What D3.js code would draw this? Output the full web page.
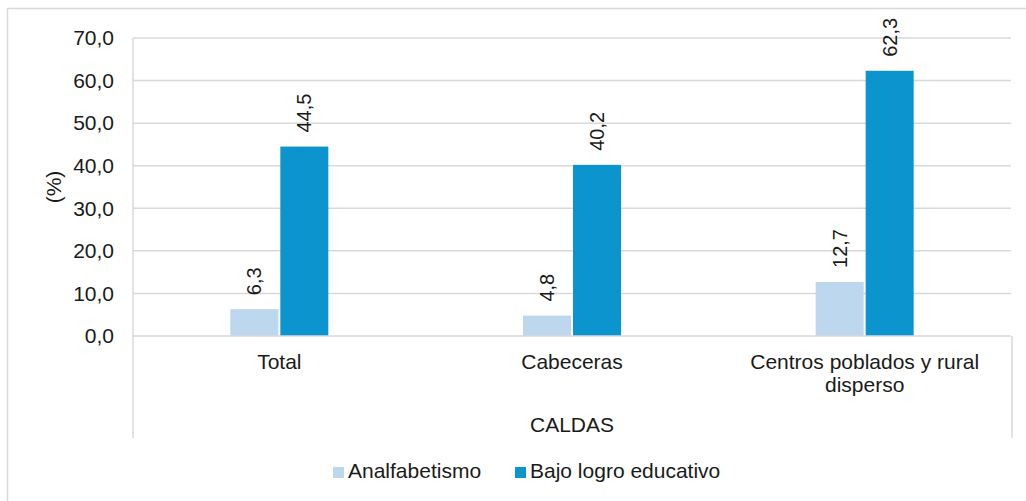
<!DOCTYPE html>
<html>
<head>
<meta charset="utf-8">
<script src="https://cdn.jsdelivr.net/npm/d3@7"></script>
<style>
  html, body { margin: 0; padding: 0; background: #fff; }
  svg { display: block; font-family: "Liberation Sans", Arial, sans-serif; }
</style>
</head>
<body>
<svg id="chart" width="1026" height="501"></svg>
<script>
const categories = ["Total", "Cabeceras", "Centros poblados y rural disperso"];
const categoryLines = [["Total"], ["Cabeceras"], ["Centros poblados y rural", "disperso"]];
const seriesNames = ["Analfabetismo", "Bajo logro educativo"];
const analfabetismo = [6.3, 4.8, 12.7];
const bajoLogro = [44.5, 40.2, 62.3];
const yTicks = [0, 10, 20, 30, 40, 50, 60, 70];
const groupLabel = "CALDAS";
const yTitle = "(%)";

const colors = ["#bdd7ee", "#0c94ce"];
const seriesValues = [analfabetismo, bajoLogro];

const svg = d3.select("#chart");
const margin = { left: 133, right: 1011, top: 38, bottom: 336 };

// outer frame
svg.append("rect")
  .attr("x", 7.5).attr("y", 8.5)
  .attr("width", 1030).attr("height", 510)
  .attr("fill", "none").attr("stroke", "#d9d9d9").attr("stroke-width", 1.5);

const x0 = d3.scaleBand()
  .domain(categories)
  .range([margin.left, margin.right]);

const groupW = 98;
const x1 = d3.scaleBand()
  .domain(seriesNames)
  .range([0, groupW])
  .paddingInner(0.04);

const y = d3.scaleLinear()
  .domain([0, 70])
  .range([margin.bottom, margin.top]);

const fmt = (v) => d3.format(".1f")(v).replace(".", ",");

// gridlines
svg.append("g")
  .selectAll("line")
  .data(yTicks.filter((t) => t > 0))
  .enter()
  .append("line")
  .attr("x1", margin.left).attr("x2", margin.right)
  .attr("y1", (d) => y(d)).attr("y2", (d) => y(d))
  .attr("stroke", "#d9d9d9").attr("stroke-width", 1.5);

// y tick labels
svg.append("g")
  .selectAll("text")
  .data(yTicks)
  .enter()
  .append("text")
  .attr("x", 114)
  .attr("y", (d) => y(d))
  .attr("dy", "0.35em")
  .attr("text-anchor", "end")
  .attr("font-size", 21)
  .attr("fill", "#1a1a1a")
  .text((d) => fmt(d));

// y title
svg.append("text")
  .attr("transform", `translate(61, ${(margin.top + margin.bottom) / 2}) rotate(-90)`)
  .attr("text-anchor", "middle")
  .attr("font-size", 21)
  .attr("fill", "#1a1a1a")
  .text(yTitle);

// bars
const rows = [];
categories.forEach((c, i) => {
  seriesNames.forEach((s, j) => {
    rows.push({ cat: c, series: s, value: seriesValues[j][i], color: colors[j] });
  });
});

const barX = (d) => x0(d.cat) + (x0.bandwidth() - groupW) / 2 + x1(d.series);

svg.append("g")
  .selectAll("rect")
  .data(rows)
  .enter()
  .append("rect")
  .attr("x", barX)
  .attr("y", (d) => y(d.value))
  .attr("width", x1.bandwidth())
  .attr("height", (d) => y(0) - y(d.value))
  .attr("fill", (d) => d.color);

// data labels (rotated)
svg.append("g")
  .selectAll("text")
  .data(rows)
  .enter()
  .append("text")
  .attr("transform", (d) => `translate(${barX(d) + x1.bandwidth() / 2}, ${y(d.value) - 14}) rotate(-90)`)
  .attr("dy", "0.35em")
  .attr("text-anchor", "start")
  .attr("font-size", 20)
  .attr("fill", "#1a1a1a")
  .text((d) => fmt(d.value));

// axes lines
svg.append("line")
  .attr("x1", margin.left).attr("x2", margin.right)
  .attr("y1", y(0)).attr("y2", y(0))
  .attr("stroke", "#d9d9d9").attr("stroke-width", 1.5);
svg.append("line")
  .attr("x1", margin.left).attr("x2", margin.left)
  .attr("y1", margin.top).attr("y2", 438)
  .attr("stroke", "#d9d9d9").attr("stroke-width", 1.5);
svg.append("line")
  .attr("x1", margin.right + 1).attr("x2", margin.right + 1)
  .attr("y1", y(0)).attr("y2", 438)
  .attr("stroke", "#d9d9d9").attr("stroke-width", 1.5);

// category labels
const catG = svg.append("g")
  .selectAll("text")
  .data(categories)
  .enter()
  .append("text")
  .attr("text-anchor", "middle")
  .attr("font-size", 21)
  .attr("fill", "#1a1a1a");
catG.each(function (d, i) {
  const t = d3.select(this);
  categoryLines[i].forEach((line, k) => {
    t.append("tspan")
      .attr("x", x0(d) + x0.bandwidth() / 2)
      .attr("y", 369 + k * 23)
      .text(line);
  });
});

// group label
svg.append("text")
  .attr("x", (margin.left + margin.right) / 2)
  .attr("y", 432)
  .attr("text-anchor", "middle")
  .attr("font-size", 21)
  .attr("fill", "#1a1a1a")
  .text(groupLabel);

// legend
const legendItems = [
  { name: seriesNames[0], color: colors[0], x: 333 },
  { name: seriesNames[1], color: colors[1], x: 515 }
];
const lg = svg.append("g")
  .selectAll("g")
  .data(legendItems)
  .enter()
  .append("g")
  .attr("transform", (d) => `translate(${d.x}, 467)`);
lg.append("rect")
  .attr("width", 11).attr("height", 11)
  .attr("fill", (d) => d.color);
lg.append("text")
  .attr("x", 15).attr("y", 11)
  .attr("font-size", 21)
  .attr("fill", "#1a1a1a")
  .text((d) => d.name);
</script>
</body>
</html>
